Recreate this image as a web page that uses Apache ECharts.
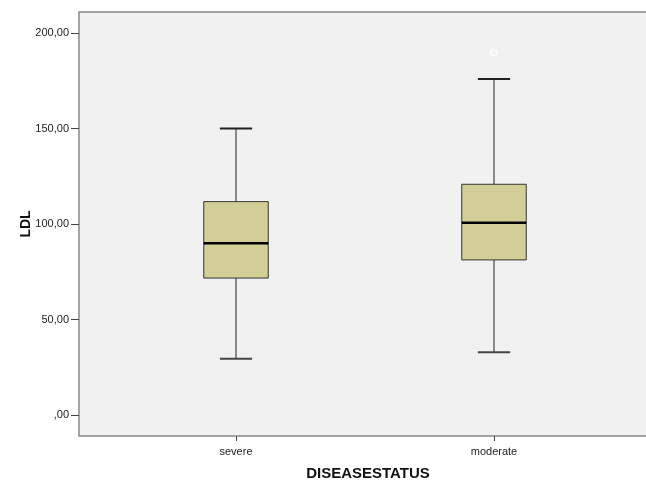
<!DOCTYPE html>
<html><head><meta charset="utf-8">
<script src="https://cdn.jsdelivr.net/npm/echarts@6/dist/echarts.min.js"></script>
<style>html,body{margin:0;padding:0;background:#fff}#c{width:646px;height:480px}</style>
</head><body><div id="c"></div>
<script>
var categories = ['severe', 'moderate'];
var lowerWhisker = [29.5, 32.8];
var q1 = [71.7, 81.2];
var median = [89.9, 100.7];
var q3 = [111.7, 120.8];
var upperWhisker = [150, 175.9];
var outliers = [[1, 189.7]];
var yTicks = [0, 50, 100, 150, 200];

var boxData = categories.map(function (c, i) {
  return [i, lowerWhisker[i], q1[i], median[i], q3[i], upperWhisker[i]];
});

var chart = echarts.init(document.getElementById('c'));
chart.setOption({
  animation: false,
  backgroundColor: '#ffffff',
  graphic: [{
    type: 'rect', z: -10,
    shape: { x: 79, y: 12, width: 600, height: 424 },
    style: { fill: '#f0f1f0', stroke: '#8a8a8a', lineWidth: 1.5 }
  }],
  grid: { left: 107, right: 23, top: 12, bottom: 44, outerBoundsMode: 'none', containLabel: false },
  xAxis: {
    type: 'category', data: categories,
    name: 'DISEASESTATUS', nameLocation: 'middle', nameGap: 30, nameMoveOverlap: false,
    nameTextStyle: { fontFamily: 'Liberation Sans', fontWeight: 'bold', fontSize: 15, color: '#111', padding: [0, 0, 0, 6] },
    axisLine: { show: false, onZero: false },
    axisTick: { show: true, alignWithLabel: true, length: 5, lineStyle: { color: '#444' } },
    axisLabel: { fontFamily: 'Liberation Sans', fontSize: 11, color: '#222', margin: 10 },
    splitLine: { show: false }
  },
  yAxis: {
    type: 'value', min: -11, max: 211, offset: 28,
    name: 'LDL', nameLocation: 'middle', nameGap: 46, nameRotate: 90, nameMoveOverlap: false,
    nameTextStyle: { fontFamily: 'Liberation Sans', fontWeight: 'bold', fontSize: 14, color: '#111' },
    axisLine: { show: false, onZero: false },
    axisTick: { show: true, length: 8, customValues: yTicks, lineStyle: { color: '#444' } },
    axisLabel: {
      fontFamily: 'Liberation Sans', fontSize: 11, color: '#222', margin: 10,
      customValues: yTicks,
      formatter: function (v) { return v === 0 ? ',00' : v + ',00'; }
    },
    splitLine: { show: false }
  },
  series: [{
    type: 'custom',
    data: boxData,
    z: 3,
    renderItem: function (params, api) {
      var x = api.value(0);
      var band = api.size([1, 0])[0];
      var bw = band * 0.25;
      var cw = bw * 0.5;
      var pLo = api.coord([x, api.value(1)]);
      var pQ1 = api.coord([x, api.value(2)]);
      var pMed = api.coord([x, api.value(3)]);
      var pQ3 = api.coord([x, api.value(4)]);
      var pHi = api.coord([x, api.value(5)]);
      var cx = pLo[0];
      var line = function (x1, y1, x2, y2, w, col) {
        return { type: 'line', shape: { x1: x1, y1: y1, x2: x2, y2: y2 }, style: { stroke: col, lineWidth: w } };
      };
      return {
        type: 'group',
        children: [
          line(cx, pHi[1], cx, pQ3[1], 1, '#222'),
          line(cx, pQ1[1], cx, pLo[1], 1, '#222'),
          line(cx - cw / 2, pHi[1], cx + cw / 2, pHi[1], 2, '#222'),
          line(cx - cw / 2, pLo[1], cx + cw / 2, pLo[1], 2, '#444'),
          { type: 'rect', shape: { x: cx - bw / 2, y: pQ3[1], width: bw, height: pQ1[1] - pQ3[1] },
            style: { fill: '#d3ce97', stroke: '#333', lineWidth: 1 } },
          line(cx - bw / 2, pMed[1], cx + bw / 2, pMed[1], 2.5, '#000')
        ]
      };
    }
  }, {
    type: 'scatter', data: outliers, z: 4,
    symbol: 'circle', symbolSize: 6,
    itemStyle: { color: 'rgba(0,0,0,0)', borderColor: '#ffffff', borderWidth: 1.5 }
  }]
});
</script></body></html>
